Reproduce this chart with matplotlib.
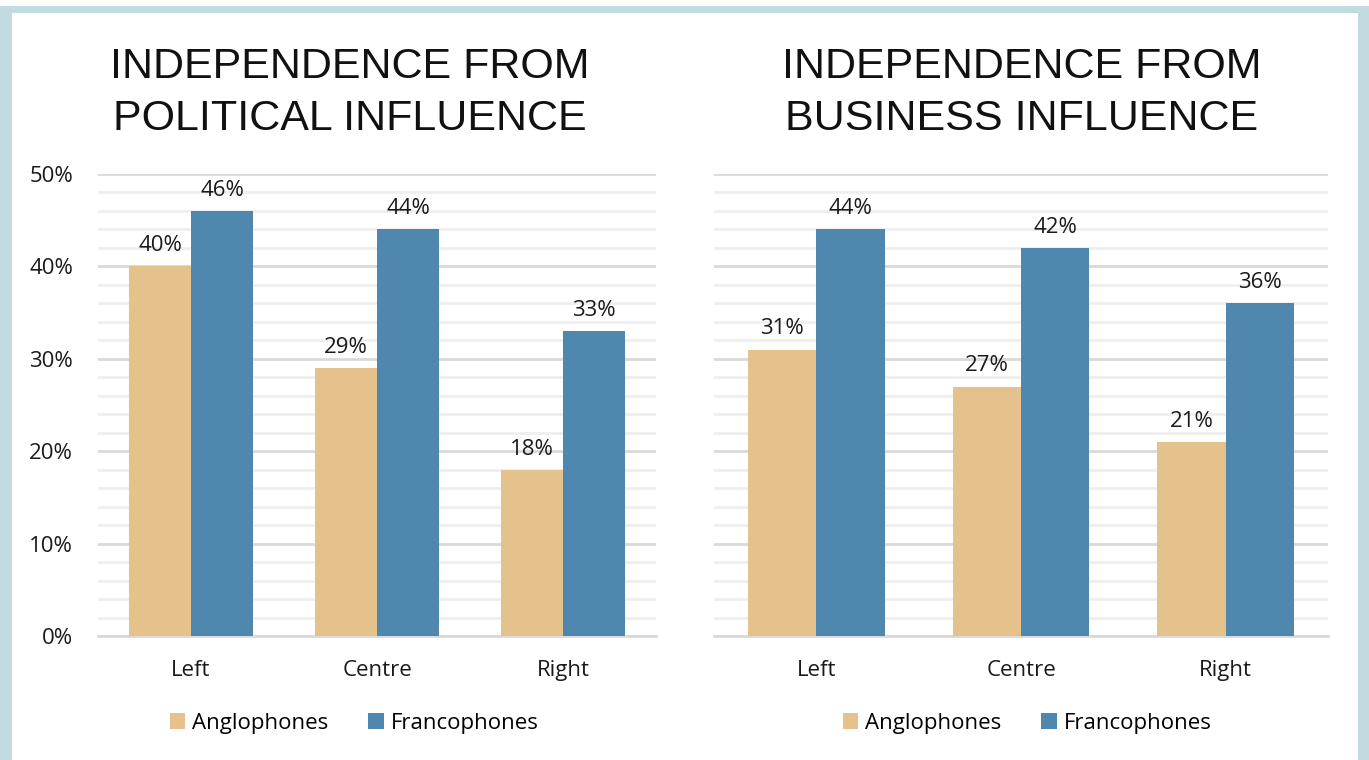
import matplotlib
matplotlib.use('Agg')
import matplotlib.pyplot as plt
from matplotlib.patches import Rectangle, Patch
import numpy as np

categories = ['Left', 'Centre', 'Right']
series = ['Anglophones', 'Francophones']
political_anglo = [40, 29, 18]
political_franco = [46, 44, 33]
business_anglo = [31, 27, 21]
business_franco = [44, 42, 36]
titles = ['INDEPENDENCE FROM\nPOLITICAL INFLUENCE', 'INDEPENDENCE FROM\nBUSINESS INFLUENCE']

TAN = '#e5c18c'
BLUE = '#4f87ae'
FRAME = '#c2dbe0'
FS = 16

plt.rcParams['font.family'] = ['Open Sans', 'DejaVu Sans']

W, H = 1369, 760
fig = plt.figure(figsize=(W / 100, H / 100), dpi=100)
fig.patch.set_facecolor('white')

# light blue frame round the whole thing
fig.patches.append(Rectangle((0, 0), 1, 1 - 6 / H, transform=fig.transFigure,
                             facecolor=FRAME, edgecolor='none', zorder=-2))
fig.patches.append(Rectangle((12 / W, 0), (1358 - 12) / W, 1 - 13 / H, transform=fig.transFigure,
                             facecolor='white', edgecolor='none', zorder=-1))


def panel(rect, anglo, franco, show_y):
    ax = fig.add_axes([rect[0] / W, 1 - rect[3] / H, (rect[2] - rect[0]) / W, (rect[3] - rect[1]) / H])
    x = np.arange(len(categories))
    w = 1 / 3
    ax.bar(x - w / 2, anglo, w, color=TAN, zorder=3, label=series[0])
    ax.bar(x + w / 2, franco, w, color=BLUE, zorder=3, label=series[1])
    for xi, a, f in zip(x, anglo, franco):
        ax.text(xi - w / 2, a + 1.1, f'{a}%', ha='center', va='bottom', fontsize=FS, color='#1a1a1a')
        ax.text(xi + w / 2, f + 1.1, f'{f}%', ha='center', va='bottom', fontsize=FS, color='#1a1a1a')
    ax.set_xlim(-0.5, 2.5)
    ax.set_ylim(0, 50)
    ax.set_yticks(np.arange(0, 51, 10))
    ax.set_yticks(np.arange(0, 51, 2), minor=True)
    ax.yaxis.grid(True, which='major', color='#d9d9d9', lw=2, zorder=0)
    ax.yaxis.grid(True, which='minor', color='#efefef', lw=2, zorder=0)
    if show_y:
        ax.set_yticklabels([f'{v}%' for v in range(0, 51, 10)])
    else:
        ax.set_yticklabels([])
    ax.set_xticks(x)
    ax.set_xticklabels(categories)
    ax.tick_params(axis='both', which='both', length=0, labelsize=FS, colors='#1a1a1a')
    ax.tick_params(axis='x', pad=17)
    ax.tick_params(axis='y', pad=18)
    for s in ['top', 'right', 'left']:
        ax.spines[s].set_visible(False)
    ax.spines['bottom'].set_color('#d9d9d9')
    ax.spines['bottom'].set_linewidth(2)
    return ax


ax1 = panel((98, 174, 656, 636), political_anglo, political_franco, True)
ax2 = panel((714, 174, 1328, 636), business_anglo, business_franco, False)

fig.text(350 / W, 1 - 93 / H, titles[0], ha='center', va='center', fontsize=31,
         family=['Liberation Sans', 'DejaVu Sans'], linespacing=1.38, color='#111111')
fig.text(1022 / W, 1 - 93 / H, titles[1], ha='center', va='center', fontsize=31,
         family=['Liberation Sans', 'DejaVu Sans'], linespacing=1.38, color='#111111')

handles = [Patch(facecolor=TAN, label=series[0]), Patch(facecolor=BLUE, label=series[1])]
for cx in (354, 1027):
    fig.legend(handles=handles, loc='center', bbox_to_anchor=(cx / W, 1 - 723 / H), ncol=2,
               frameon=False, fontsize=FS, handlelength=0.7, handleheight=0.7,
               handletextpad=0.3, columnspacing=1.8)

fig.savefig('out.png', dpi=100)
